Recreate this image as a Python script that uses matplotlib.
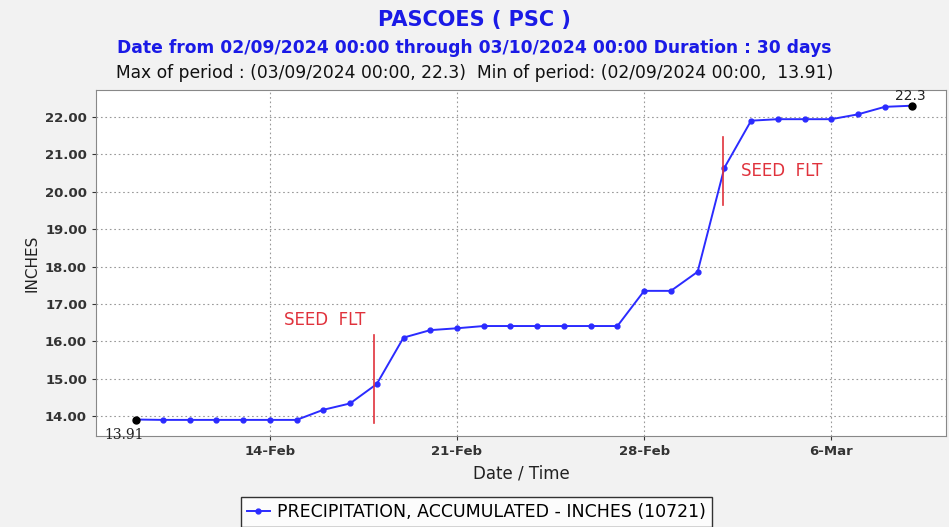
import matplotlib
matplotlib.use("Agg")
import matplotlib.pyplot as plt
import matplotlib.dates as mdates
from matplotlib.ticker import FuncFormatter, MultipleLocator
import numpy as np
import datetime as dt

# daily accumulated precipitation, 02/09/2024 .. 03/09/2024
dates = [dt.datetime(2024, 2, 9) + dt.timedelta(days=i) for i in range(30)]
values = [13.91, 13.90, 13.90, 13.90, 13.90, 13.90, 13.90, 14.17, 14.34, 14.86,
          16.10, 16.30, 16.35, 16.41, 16.41, 16.41, 16.41, 16.41, 16.41, 17.35,
          17.35, 17.86, 20.64, 21.90, 21.94, 21.94, 21.94, 22.07, 22.27, 22.30]

seed_marks = [dt.datetime(2024, 2, 17, 21, 30), dt.datetime(2024, 3, 1, 22, 30)]
seed_spans = [(13.81, 16.17), (19.64, 21.46)]
seed_text_pos = [(dt.datetime(2024, 2, 14, 13), 16.57), (dt.datetime(2024, 3, 2, 15), 20.55)]

blue = "#2b2bff"
title_blue = "#1a1ae6"
red = "#e0323c"

fig = plt.figure(figsize=(9.49, 5.27), dpi=100)
fig.patch.set_facecolor("#f2f2f2")
ax = fig.add_axes([0.1012, 0.1727, 0.8957, 0.6565])
ax.set_facecolor("white")

line, = ax.plot(dates, values, color=blue, lw=1.4, marker="o", ms=3.5,
                label="PRECIPITATION, ACCUMULATED - INCHES (10721)")
# min / max points
ax.plot(dates[0], values[0], "o", color="black", ms=5, zorder=5)
ax.plot(dates[-1], values[-1], "o", color="black", ms=5, zorder=5)
ax.annotate("13.91", (dates[0], values[0]), xytext=(-23, -14), textcoords="offset points",
            fontsize=10, color="#222222", family="DejaVu Serif")
ax.annotate("22.3", (dates[-1], values[-1]), xytext=(-12, 4), textcoords="offset points",
            fontsize=10, color="#222222")

for xm, (y0, y1), (tx, ty) in zip(seed_marks, seed_spans, seed_text_pos):
    ax.plot([xm, xm], [y0, y1], color=red, lw=1.2)
    ax.text(tx, ty, "SEED  FLT", color=red, fontsize=12, va="center",
            family="DejaVu Sans")

ax.set_xlim(dt.datetime(2024, 2, 7, 12), dt.datetime(2024, 3, 10, 7))
ax.set_ylim(13.47, 22.72)
ax.yaxis.set_major_locator(MultipleLocator(1.0))
ax.yaxis.set_major_formatter(FuncFormatter(lambda v, p: f"{v:.2f}"))
ax.xaxis.set_major_locator(mdates.DayLocator(bymonthday=[14, 21, 28, 6]))
ax.xaxis.set_major_formatter(FuncFormatter(
    lambda v, p: f"{mdates.num2date(v).day}-{mdates.num2date(v).strftime('%b')}"))

ax.grid(True, color="#999999", ls=(0, (1.5, 2.5)), lw=0.8)
ax.tick_params(labelsize=9.5, colors="#333333", length=3)
for lbl in ax.get_xticklabels() + ax.get_yticklabels():
    lbl.set_fontweight("bold")
for s in ax.spines.values():
    s.set_color("#888888")

ax.set_ylabel("INCHES", fontsize=11, color="#222222", labelpad=4)
ax.set_xlabel("Date / Time", fontsize=12, color="#222222", labelpad=5)

fig.text(0.5, 0.962, "PASCOES ( PSC )", ha="center", va="center", fontsize=15,
         fontweight="bold", color=title_blue)
fig.text(0.5, 0.908, "Date from 02/09/2024 00:00 through 03/10/2024 00:00 Duration : 30 days",
         ha="center", va="center", fontsize=12.3, fontweight="bold", color=title_blue)
fig.text(0.5, 0.861, "Max of period : (03/09/2024 00:00, 22.3)  Min of period: (02/09/2024 00:00,  13.91)",
         ha="center", va="center", fontsize=12.3, color="#111111")

leg = fig.legend(handles=[line], loc="center", bbox_to_anchor=(0.502, 0.028),
                 fontsize=12.5, frameon=True, fancybox=False, edgecolor="black",
                 handlelength=1.3, handletextpad=0.4, borderpad=0.35)
leg.get_frame().set_linewidth(1.0)

fig.savefig("out.png", dpi=100, facecolor=fig.get_facecolor())
